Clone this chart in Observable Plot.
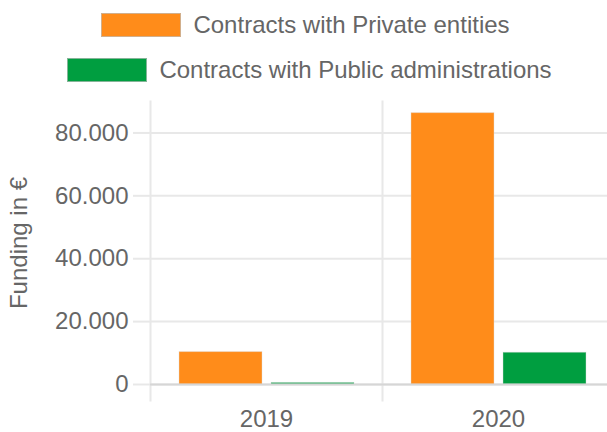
<!DOCTYPE html>
<html>
<head>
<meta charset="utf-8">
<script src="https://cdn.jsdelivr.net/npm/d3@7"></script>
<script src="https://cdn.jsdelivr.net/npm/@observablehq/plot@0.6"></script>
<style>
  html, body { margin: 0; padding: 0; background: #fff; overflow: hidden; }
  #wrap { width: 607px; height: 432px; overflow: hidden; position: relative; font-family: "Liberation Sans", Arial, sans-serif; }
  #legend { height: 95px; box-sizing: border-box; padding-top: 13px; }
  .row { display: flex; justify-content: center; align-items: center; height: 24px; margin-bottom: 21px; color: #666; font-size: 24px; }
  .sw { width: 78px; height: 22px; border: 1px solid rgba(190,190,190,0.7); margin-right: 12px; }
  #chart svg { display: block; max-width: none !important; }
</style>
</head>
<body>
<div id="wrap">
  <div id="legend"></div>
  <div id="chart"></div>
</div>
<script>
const years = ["2019", "2020"];
const series = ["Contracts with Private entities", "Contracts with Public administrations"];
const colors = ["#ff8c1a", "#009e40"];
const privateValues = [10300, 86300];
const publicValues = [500, 10100];
const yTicks = [0, 20000, 40000, 60000, 80000];
const yLabel = "Funding in €";

const data = [];
years.forEach((y, i) => {
  data.push({year: y, series: series[0], value: privateValues[i]});
  data.push({year: y, series: series[1], value: publicValues[i]});
});

const legend = document.getElementById("legend");
series.forEach((s, i) => {
  const row = document.createElement("div");
  row.className = "row";
  row.style.transform = i === 0 ? "translateX(2px)" : "translateX(6px)";
  const sw = document.createElement("div");
  sw.className = "sw";
  sw.style.background = colors[i];
  const t = document.createElement("span");
  t.textContent = s;
  row.appendChild(sw);
  row.appendChild(t);
  legend.appendChild(row);
});

const fmt = d3.formatLocale({decimal: ",", thousands: ".", grouping: [3], currency: ["", "€"]}).format(",");
const grid = "#e8e8e8";

const chart = Plot.plot({
  width: 614,
  height: 337,
  marginTop: 6,
  marginBottom: 48,
  marginLeft: 150,
  marginRight: 0,
  style: {fontFamily: "'Liberation Sans', Arial, sans-serif", background: "#fff", maxWidth: "none"},
  fx: {domain: years, padding: 0, label: null},
  x: {domain: series, paddingInner: 0.1, paddingOuter: 0.3, axis: null},
  y: {domain: [0, 90000]},
  color: {domain: series, range: colors},
  marks: [
    Plot.gridY(yTicks, {stroke: grid, strokeOpacity: 1, strokeWidth: 2}),
    Plot.frame({anchor: "left", stroke: grid, strokeWidth: 2, insetBottom: -16}),
    Plot.axisY(yTicks, {
      tickSize: 17, tickPadding: 5, tickFormat: fmt,
      stroke: grid, strokeWidth: 2, fill: "#666", fontSize: 24,
      label: yLabel, labelAnchor: "center", labelOffset: 141, labelArrow: "none"
    }),
    Plot.axisFx({anchor: "bottom", tickSize: 0, tickPadding: 25, fontSize: 24, fill: "#666", label: null}),
    Plot.barY(data, {fx: "year", x: "series", y: "value", fill: "series", stroke: "#ddd", strokeOpacity: 0.4, strokeWidth: 1}),
    Plot.ruleY([0], {stroke: "#d6d6d6", strokeWidth: 2})
  ]
});
document.getElementById("chart").appendChild(chart);
</script>
</body>
</html>
